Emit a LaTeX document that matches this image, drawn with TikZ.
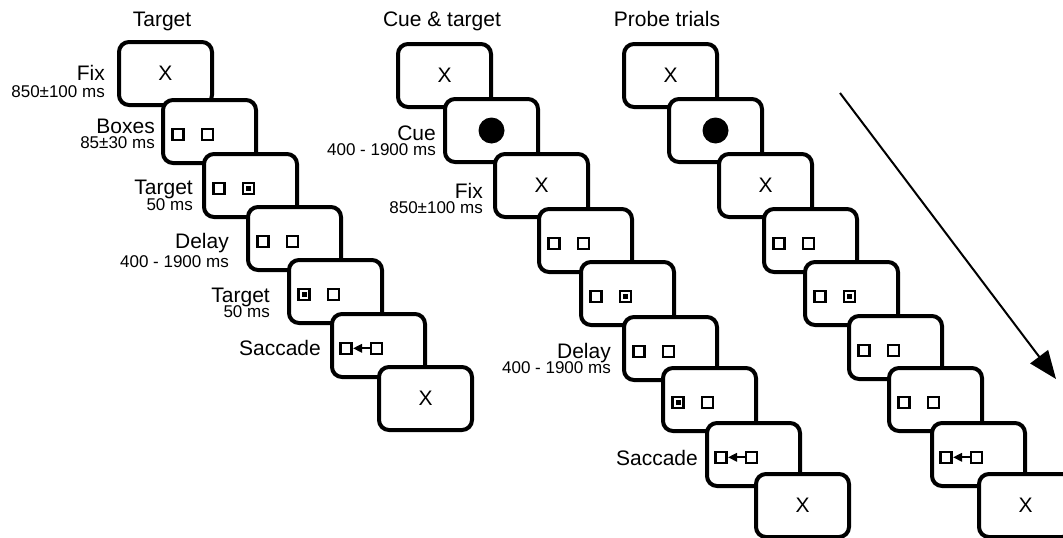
\documentclass[tikz,border=0pt]{standalone}
\usepackage{fontspec}
\setmainfont{Liberation Sans}
\usetikzlibrary{arrows.meta}

\tikzset{
  screen/.style={draw, line width=4pt, rounded corners=10pt, fill=white,
    minimum width=93pt, minimum height=63pt, anchor=north west, inner sep=0pt,
    font=\fontsize{21}{21}\selectfont},
  sq/.style={draw, line width=2.5pt},
  lab/.style={font=\fontsize{21}{21}\selectfont, anchor=base east, inner sep=0pt},
  dur/.style={font=\fontsize{17}{17}\selectfont, anchor=base east, inner sep=0pt},
  ttl/.style={font=\fontsize{21}{21}\selectfont, anchor=base, inner sep=0pt},
  % two placeholder boxes, offsets from the screen's top-left corner
  pics/squares/.style={code={
    \draw[sq] (11.5,30.8) rectangle (22.5,41.8);
    \draw[sq] (40.8,30.8) rectangle (51.8,41.8);}},
  pics/tgtright/.style={code={
    \pic {squares};
    \fill (43.8,33.8) rectangle (48.8,38.8);}},
  pics/tgtleft/.style={code={
    \pic {squares};
    \fill (14.5,33.8) rectangle (19.5,38.8);}},
  pics/saccade/.style={code={
    \draw[sq] (10.5,30.8) rectangle (21.5,41.8);
    \draw[sq] (40.8,30.8) rectangle (51.8,41.8);
    \fill (23.2,36.3) -- (32,31.8) -- (32,40.8) -- cycle;
    \draw[line width=2pt] (31,36.3) -- (40,36.3);}},
}

\begin{document}
\begin{tikzpicture}[x=1pt, y=-1pt]
\useasboundingbox (0,0) rectangle (1063,538);
\clip (0,0) rectangle (1063,538);

% ---------- Target ----------
\node[ttl] (ta) at (162,27) {Target};
\node[screen] (a1) at (117,40) {X};
\node[screen] (a2) at (161,98) {};
\pic at (a2.north west) {squares};
\node[screen] (a3) at (202,152) {};
\pic at (a3.north west) {tgtright};
\node[screen] (a4) at (246,205) {};
\pic at (a4.north west) {squares};
\node[screen] (a5) at (287,258) {};
\pic at (a5.north west) {tgtleft};
\node[screen] (a6) at (330,312) {};
\pic at (a6.north west) {saccade};
\node[screen] (a7) at (377,365) {X};

\node[lab] (la1) at (105,80) {Fix};
\node[dur] (da1) at (105,97) {850±100 ms};
\node[lab] (la2) at (155,133) {Boxes};
\node[dur] (da2) at (155,148) {85±30 ms};
\node[lab] (la3) at (193,194) {Target};
\node[dur] (da3) at (193,210) {50 ms};
\node[lab] (la4) at (229,248) {Delay};
\node[dur] (da4) at (229,267) {400 - 1900 ms};
\node[lab] (la5) at (270,302) {Target};
\node[dur] (da5) at (270,317) {50 ms};
\node[lab] (la6) at (321,355) {Saccade};

% ---------- Cue & target ----------
\node[ttl] (tb) at (442,27) {Cue \& target};
\node[screen] (b1) at (396,42) {X};
\node[screen] (b2) at (443,97) {};
\fill (b2.center) circle (13pt);
\node[screen] (b3) at (493,152) {X};
\node[screen] (b4) at (537,207) {};
\pic at (b4.north west) {squares};
\node[screen] (b5) at (579,260) {};
\pic at (b5.north west) {tgtright};
\node[screen] (b6) at (622,315) {};
\pic at (b6.north west) {squares};
\node[screen] (b7) at (661,366) {};
\pic at (b7.north west) {tgtleft};
\node[screen] (b8) at (705,421) {};
\pic at (b8.north west) {saccade};
\node[screen] (b9) at (754,472) {X};

\node[lab] (lb2) at (436,140) {Cue};
\node[dur] (db2) at (436,155) {400 - 1900 ms};
\node[lab] (lb3) at (483,198) {Fix};
\node[dur] (db3) at (483,213) {850±100 ms};
\node[lab] (lb6) at (611,358) {Delay};
\node[dur] (db6) at (611,373) {400 - 1900 ms};
\node[lab] (lb8) at (698,465) {Saccade};

% ---------- Probe trials ----------
\node[ttl] (tc) at (667,27) {Probe trials};
\node[screen] (c1) at (622,42) {X};
\node[screen] (c2) at (667,97) {};
\fill (c2.center) circle (13pt);
\node[screen] (c3) at (717,152) {X};
\node[screen] (c4) at (762,207) {};
\pic at (c4.north west) {squares};
\node[screen] (c5) at (803,260) {};
\pic at (c5.north west) {tgtright};
\node[screen] (c6) at (847,314) {};
\pic at (c6.north west) {squares};
\node[screen] (c7) at (887,366) {};
\pic at (c7.north west) {squares};
\node[screen] (c8) at (930,421) {};
\pic at (c8.north west) {saccade};
\node[screen] (c9) at (977,472) {X};

% ---------- time arrow ----------
\coordinate (ts) at (840,93);
\coordinate (te) at (1056,379);
\draw[line width=2pt, -{Triangle[length=28pt,width=22pt]}] (ts) -- (te);
\end{tikzpicture}
\end{document}
